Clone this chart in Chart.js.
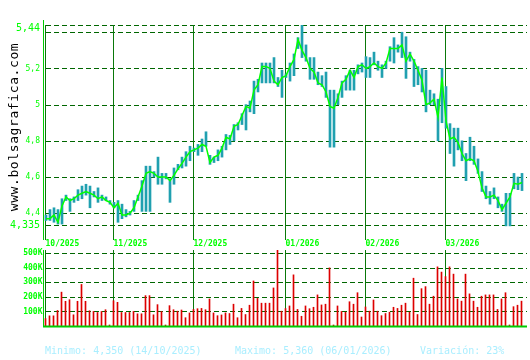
<!DOCTYPE html>
<html lang="es">
<head>
<meta charset="UTF-8" />
<title>bolsagrafica</title>
<style>
  body { margin: 0; background: #fff; overflow: hidden; }
  .wrap { position: relative; width: 530px; height: 360px; }
  canvas { position: absolute; left: 0; top: 0; }
</style>
</head>
<body>
<div class="wrap">
  <canvas id="priceChart" width="530" height="360"></canvas>
  <canvas id="volumeChart" width="530" height="360"></canvas>
</div>
<script src="https://cdn.jsdelivr.net/npm/chart.js"></script>
<script>
// datos (una sesion por posicion)
const closes = [
  4.37, 4.37, 4.39, 4.35, 4.44, 4.49, 4.47, 4.48, 4.50, 4.51, 4.52, 4.51, 4.50, 4.48, 4.49, 4.47, 4.46,
  4.43, 4.455, 4.39, 4.39, 4.40, 4.43, 4.49, 4.55, 4.62, 4.63, 4.62, 4.60, 4.60, 4.60, 4.58, 4.61, 4.645, 4.675, 4.71, 4.74,
  4.75, 4.76, 4.78, 4.77, 4.68, 4.71, 4.72, 4.76, 4.82, 4.81, 4.88, 4.89, 4.94, 4.99, 4.98, 5.08, 5.11, 5.21, 5.21, 5.20, 5.13, 5.11, 5.15,
  5.16, 5.21, 5.25, 5.36, 5.30, 5.26, 5.20, 5.18, 5.12, 5.11, 5.07, 4.99, 4.98, 5.04, 5.12, 5.14, 5.19, 5.15, 5.21, 5.22,
  5.20, 5.21, 5.23, 5.21, 5.20, 5.23, 5.31, 5.31, 5.31, 5.33, 5.24, 5.28, 5.24, 5.19, 5.135, 5.00, 5.01, 5.03, 4.93, 5.15,
  4.91, 4.81, 4.82, 4.79, 4.73, 4.69, 4.70, 4.69, 4.63, 4.54, 4.49, 4.49, 4.50, 4.47, 4.42, 4.455, 4.49, 4.565, 4.56, 4.57
];
const highs = [
  4.39, 4.42, 4.43, 4.42, 4.48, 4.50, 4.48, 4.49, 4.53, 4.55, 4.56, 4.55, 4.52, 4.54, 4.50, 4.49, 4.47,
  4.46, 4.47, 4.45, 4.42, 4.41, 4.47, 4.50, 4.58, 4.66, 4.66, 4.63, 4.71, 4.62, 4.62, 4.59, 4.65, 4.67, 4.71, 4.74, 4.77,
  4.76, 4.78, 4.81, 4.85, 4.72, 4.71, 4.75, 4.77, 4.835, 4.83, 4.89, 4.90, 4.95, 5.00, 5.02, 5.13, 5.14, 5.23, 5.23, 5.23, 5.26, 5.15, 5.19,
  5.17, 5.23, 5.28, 5.37, 5.44, 5.33, 5.26, 5.26, 5.18, 5.16, 5.18, 5.08, 5.08, 5.06, 5.13, 5.16, 5.19, 5.19, 5.22, 5.23,
  5.265, 5.26, 5.29, 5.24, 5.22, 5.24, 5.32, 5.37, 5.33, 5.40, 5.375, 5.29, 5.25, 5.21, 5.20, 5.19, 5.08, 5.06, 5.03, 5.20,
  5.10, 4.895, 4.87, 4.87, 4.80, 4.73, 4.82, 4.77, 4.70, 4.63, 4.55, 4.52, 4.54, 4.49, 4.45, 4.51, 4.51, 4.62, 4.60, 4.62
];
const lows = [
  4.36, 4.36, 4.35, 4.34, 4.34, 4.47, 4.41, 4.46, 4.47, 4.48, 4.50, 4.43, 4.49, 4.46, 4.47, 4.47, 4.45,
  4.43, 4.35, 4.37, 4.38, 4.39, 4.41, 4.47, 4.41, 4.41, 4.41, 4.60, 4.56, 4.56, 4.59, 4.46, 4.56, 4.64, 4.65, 4.66, 4.69,
  4.74, 4.72, 4.74, 4.77, 4.67, 4.68, 4.69, 4.71, 4.75, 4.78, 4.80, 4.86, 4.89, 4.86, 4.96, 4.95, 5.07, 5.12, 5.12, 5.12, 5.12, 5.10, 5.04,
  5.15, 5.13, 5.16, 5.31, 5.26, 5.24, 5.14, 5.14, 5.11, 5.10, 5.04, 4.765, 4.765, 5.00, 5.04, 5.08, 5.08, 5.08, 5.17, 5.18,
  5.15, 5.15, 5.22, 5.19, 5.15, 5.20, 5.24, 5.23, 5.29, 5.26, 5.145, 5.24, 5.10, 5.11, 5.07, 4.96, 5.00, 5.00, 4.80, 4.90,
  4.87, 4.73, 4.66, 4.75, 4.69, 4.58, 4.69, 4.67, 4.62, 4.52, 4.48, 4.45, 4.48, 4.43, 4.41, 4.33, 4.33, 4.535, 4.53, 4.525
];
// volumen en miles de titulos
const volumes = [
  51, 70, 70, 107, 233, 170, 181, 77, 170, 286, 170, 105, 100, 93, 100, 112, 7,
  174, 163, 93, 93, 93, 100, 84, 84, 209, 209, 77, 147, 100, 7, 140, 112, 102, 110, 57, 90,
  114, 119, 121, 112, 186, 90, 71, 76, 90, 86, 150, 57, 121, 79, 143, 310, 190, 157, 157, 157, 262, 540, 102,
  120, 138, 352, 114, 67, 138, 119, 129, 214, 145, 150, 400, 7, 138, 100, 95, 167, 150, 229, 62,
  131, 102, 179, 102, 71, 86, 95, 129, 121, 143, 157, 95, 329, 79, 257, 271, 150, 205, 407, 371,
  340, 407, 357, 186, 171, 357, 221, 171, 129, 205, 214, 214, 214, 114, 186, 229, 7, 133, 143, 171
];
const monthStarts = [0, 17, 37, 60, 80, 100];
const monthLabels = ["10/2025", "11/2025", "12/2025", "01/2026", "02/2026", "03/2026"];
const priceGrid = [5.44, 5.40, 5.2, 5.0, 4.8, 4.6, 4.4, 4.335];
const priceLabels = ["5,44", "", "5,2", "5", "4,8", "4,6", "4,4", "4,335"];
const volumeGrid = [100, 200, 300, 400, 500];
const volumeLabels = ["100K", "200K", "300K", "400K", "500K"];
const footer = ["Minimo: 4,350 (14/10/2025)", "Maximo: 5,360 (06/01/2026)", "Variación: 23%"];

const MONO = "'DejaVu Sans Mono', 'Liberation Mono', monospace";

function xScale(min) {
  return { type: "linear", min: min, max: min + 120.75, offset: false, display: false };
}

function hline(ctx, x0, x1, y, color, dash, width) {
  ctx.save();
  ctx.strokeStyle = color;
  ctx.lineWidth = width || 1;
  ctx.setLineDash(dash || []);
  ctx.beginPath();
  ctx.moveTo(x0, y);
  ctx.lineTo(x1, y);
  ctx.stroke();
  ctx.restore();
}

function vline(ctx, x, y0, y1, color, width) {
  ctx.save();
  ctx.strokeStyle = color;
  ctx.lineWidth = width || 1;
  ctx.beginPath();
  ctx.moveTo(x, y0);
  ctx.lineTo(x, y1);
  ctx.stroke();
  ctx.restore();
}

function monthX(scale, k) {
  return Math.floor(scale.getPixelForValue(k) - 0.5) + 0.5;
}

const priceDeco = {
  id: "priceDeco",
  beforeDatasetsDraw(chart) {
    const { ctx, chartArea: a, scales } = chart;
    priceGrid.forEach((v) => {
      const y = Math.round(scales.y.getPixelForValue(v)) + 0.5;
      hline(ctx, a.left + 2, a.right, y, "#006600", [5, 3]);
    });
    monthStarts.forEach((k) => {
      vline(ctx, monthX(scales.x, k), a.top, a.bottom, "#0a780a", 1);
    });
    vline(ctx, 43.5, 20, a.bottom, "#00cc00", 1);
  },
  afterDraw(chart) {
    const { ctx, scales } = chart;
    ctx.save();
    ctx.fillStyle = "#00ff00";
    ctx.textAlign = "right";
    ctx.textBaseline = "middle";
    priceGrid.forEach((v, i) => {
      if (!priceLabels[i]) return;
      const big = i === 0 || i === priceGrid.length - 1;
      ctx.font = (big ? "10px " : "8px ") + MONO;
      const y = scales.y.getPixelForValue(v) + (i === 0 ? 3 : 0);
      ctx.fillText(priceLabels[i], 40, y);
    });
    ctx.textAlign = "left";
    ctx.font = "bold 8px " + MONO;
    monthStarts.forEach((k, i) => {
      ctx.fillText(monthLabels[i], monthX(scales.x, k), 244);
    });
    // marca de agua vertical
    ctx.fillStyle = "#000";
    ctx.font = "13px " + MONO;
    ctx.letterSpacing = "0.6px";
    ctx.textAlign = "center";
    ctx.textBaseline = "alphabetic";
    ctx.translate(18, 127);
    ctx.rotate(-Math.PI / 2);
    ctx.fillText("www.bolsagrafica.com", 0, 0);
    ctx.restore();
    ctx.save();
    ctx.fillStyle = "#aaeeff";
    ctx.font = "10px " + MONO;
    ctx.textBaseline = "middle";
    ctx.fillText(footer[0], 45, 351);
    ctx.fillText(footer[1], 235, 351);
    ctx.fillText(footer[2], 420, 351);
    ctx.restore();
  },
};

const volumeDeco = {
  id: "volumeDeco",
  beforeDatasetsDraw(chart) {
    const { ctx, chartArea: a, scales } = chart;
    volumeGrid.forEach((v) => {
      const y = Math.round(scales.y.getPixelForValue(v)) + 0.5;
      hline(ctx, a.left + 2, a.right, y, "#006600", [5, 3]);
    });
    monthStarts.forEach((k) => {
      vline(ctx, monthX(scales.x, k), a.top, a.bottom, "#0a780a", 1);
    });
  },
  afterDraw(chart) {
    const { ctx, chartArea: a, scales } = chart;
    vline(ctx, 43.5, a.top, a.bottom + 1, "#00cc00", 1);
    hline(ctx, 43, a.right, a.bottom + 0.5, "#00cc00", [], 2);
    ctx.save();
    ctx.fillStyle = "#00ff00";
    ctx.font = "bold 8px " + MONO;
    ctx.textAlign = "right";
    ctx.textBaseline = "middle";
    volumeGrid.forEach((v, i) => {
      ctx.fillText(volumeLabels[i], 42.5, scales.y.getPixelForValue(v));
    });
    ctx.restore();
  },
};

new Chart(document.getElementById("priceChart"), {
  data: {
    datasets: [
      {
        type: "line",
        data: closes.map((c, i) => ({ x: i, y: c })),
        borderColor: "#00ff00",
        borderWidth: 1.5,
        pointRadius: 0,
        tension: 0,
        order: 0,
      },
      {
        type: "bar",
        data: highs.map((h, i) => ({ x: i, y: [lows[i], h] })),
        backgroundColor: "#20a0b0",
        barThickness: 2,
        order: 1,
      },
    ],
  },
  options: {
    responsive: false,
    animation: false,
    layout: { padding: { left: 44, right: 3, top: 25, bottom: 120 } },
    scales: {
      x: xScale(-0.5),
      y: { type: "linear", min: 4.252, max: 5.44, display: false },
    },
    plugins: { legend: { display: false }, tooltip: { enabled: false } },
  },
  plugins: [priceDeco],
});

new Chart(document.getElementById("volumeChart"), {
  type: "bar",
  data: {
    datasets: [
      {
        data: volumes.map((v, i) => ({ x: i, y: v })),
        backgroundColor: "#dd0000",
        barThickness: 1,
      },
    ],
  },
  options: {
    responsive: false,
    animation: false,
    layout: { padding: { left: 44, right: 3, top: 250, bottom: 34 } },
    scales: {
      x: xScale(-0.375),
      y: { type: "linear", min: 0, max: 523, display: false },
    },
    plugins: { legend: { display: false }, tooltip: { enabled: false } },
  },
  plugins: [volumeDeco],
});
</script>
</body>
</html>
